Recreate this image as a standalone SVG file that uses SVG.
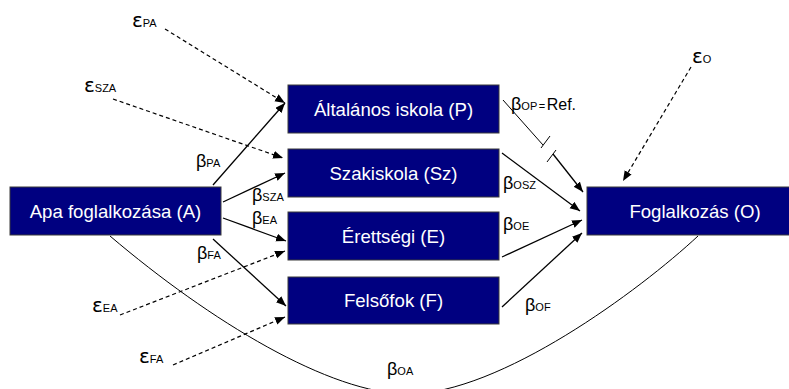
<svg xmlns="http://www.w3.org/2000/svg" width="789" height="389" viewBox="0 0 789 389">
<defs>
<marker id="ah" markerUnits="userSpaceOnUse" markerWidth="11" markerHeight="9" refX="10" refY="4" orient="auto">
<path d="M0,0 L10,4 L0,8 z" fill="#000"/>
</marker>
<style>
.box{fill:#000080;stroke:#3a3a3a;stroke-width:1}
.bt{font-family:"Liberation Sans",Arial,sans-serif;font-size:18.6px;fill:#fff;text-anchor:middle}
.g{font-family:"Liberation Sans",Arial,sans-serif;font-size:18px;fill:#000}
.e{font-family:"DejaVu Sans","Liberation Sans",sans-serif;font-size:20px;fill:#000}
.s{font-family:"Liberation Sans",Arial,sans-serif;font-size:11px}
.r{font-family:"Liberation Sans",Arial,sans-serif;font-size:16px}
.sol{fill:none;stroke:#000;stroke-width:1.3}
.dash{fill:none;stroke:#000;stroke-width:1.2;stroke-dasharray:4 3}
.thin{fill:none;stroke:#000;stroke-width:1}
</style>
</defs>
<rect width="789" height="389" fill="#fff"/>
<g id="connectors">
<line class="sol" x1="213" y1="185" x2="285" y2="103" marker-end="url(#ah)"/>
<line class="sol" x1="223" y1="202" x2="285" y2="173" marker-end="url(#ah)"/>
<line class="sol" x1="223" y1="218" x2="286" y2="241" marker-end="url(#ah)"/>
<line class="sol" x1="213" y1="239" x2="286" y2="306" marker-end="url(#ah)"/>
<line class="dash" x1="165" y1="29" x2="285" y2="103" marker-end="url(#ah)"/>
<line class="dash" x1="113" y1="99" x2="283" y2="158" marker-end="url(#ah)"/>
<line class="dash" x1="120" y1="315" x2="285" y2="251" marker-end="url(#ah)"/>
<line class="dash" x1="173" y1="365" x2="285" y2="317" marker-end="url(#ah)"/>
<line class="dash" x1="691" y1="67" x2="623" y2="181" marker-end="url(#ah)"/>
<line class="thin" x1="503" y1="100" x2="543" y2="145"/>
<line class="thin" x1="541" y1="148" x2="550" y2="136"/>
<line class="thin" x1="547" y1="162" x2="556" y2="150"/>
<line class="sol" x1="553" y1="154" x2="583" y2="192" marker-end="url(#ah)"/>
<line class="sol" x1="502" y1="153" x2="580" y2="211" marker-end="url(#ah)"/>
<line class="sol" x1="502" y1="257" x2="582" y2="220" marker-end="url(#ah)"/>
<line class="sol" x1="502" y1="307" x2="582" y2="233" marker-end="url(#ah)"/>
<path class="thin" d="M110,236 C210,321 330,394 408,394 C500,394 640,290 698,236"/>
</g>
<g id="node-A"><rect class="box" x="10" y="187" width="211" height="48"/><text class="bt" x="115.5" y="217.7">Apa foglalkozása (A)</text></g>
<g id="node-P"><rect class="box" x="288" y="85" width="211" height="48"/><text class="bt" x="393.5" y="115.7">Általános iskola (P)</text></g>
<g id="node-Sz"><rect class="box" x="288" y="149" width="211" height="48"/><text class="bt" x="393.5" y="179.7">Szakiskola (Sz)</text></g>
<g id="node-E"><rect class="box" x="288" y="212" width="211" height="48"/><text class="bt" x="393.5" y="242.7">Érettségi (E)</text></g>
<g id="node-F"><rect class="box" x="288" y="277" width="211" height="47"/><text class="bt" x="393.5" y="307.2">Felsőfok (F)</text></g>
<g id="node-O"><rect class="box" x="587" y="187" width="216" height="48"/><text class="bt" x="695" y="218.2">Foglalkozás (O)</text></g>
<g id="labels">
<text class="e" x="132" y="27">ε<tspan class="s">PA</tspan></text>
<text class="e" x="84" y="92">ε<tspan class="s">SZA</tspan></text>
<text class="e" x="92" y="312">ε<tspan class="s">EA</tspan></text>
<text class="e" x="139" y="363">ε<tspan class="s">FA</tspan></text>
<text class="e" x="692" y="63">ε<tspan class="s">O</tspan></text>
<text class="g" x="196" y="167">β<tspan class="s">PA</tspan></text>
<text class="g" x="252" y="201">β<tspan class="s">SZA</tspan></text>
<text class="g" x="252" y="224">β<tspan class="s">EA</tspan></text>
<text class="g" x="197" y="259">β<tspan class="s">FA</tspan></text>
<text class="g" x="387" y="375">β<tspan class="s">OA</tspan></text>
<text class="g" x="511" y="110">β<tspan class="s">OP</tspan><tspan class="s" font-size="9" dx="1.5">=</tspan><tspan class="r" dx="1.5">Ref.</tspan></text>
<text class="g" x="503" y="189">β<tspan class="s">OSZ</tspan></text>
<text class="g" x="503" y="230">β<tspan class="s">OE</tspan></text>
<text class="g" x="525" y="311">β<tspan class="s">OF</tspan></text>
</g>
</svg>
